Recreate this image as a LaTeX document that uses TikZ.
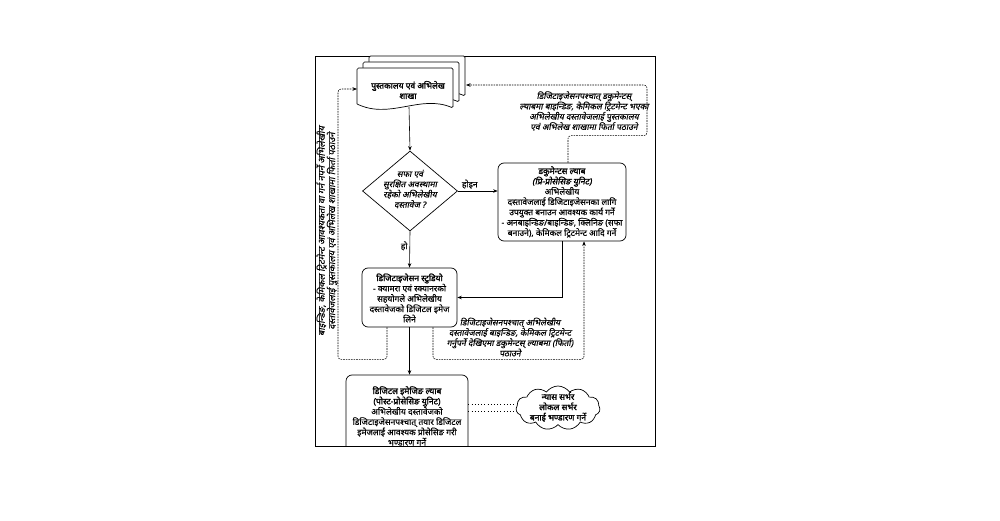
\documentclass[tikz,border=0pt]{standalone}
\usepackage{fontspec}
\setmainfont[Script=Devanagari,FakeBold=0.3]{Noto Sans}
\newfontfamily\devit[Script=Devanagari,FakeSlant=0.2,FakeBold=0.3]{Noto Sans}
\newfontfamily\devbf[Script=Devanagari,FakeBold=1.8]{Noto Sans}
\newfontfamily\devbi[Script=Devanagari,FakeBold=1.8,FakeSlant=0.2]{Noto Sans}
\usetikzlibrary{shapes.geometric,shapes.symbols,arrows.meta,calc}
\tikzset{
  box/.style={draw, rounded corners=6pt, line width=0.7pt, inner sep=0pt},
  txt/.style={align=center, font=\fontsize{8.5}{10.3}\selectfont, inner sep=0pt},
  arr/.style={-{Stealth[length=4.5pt,width=3.5pt]}, line width=0.6pt},
  dsh/.style={dash pattern=on 1.6pt off 1pt, line width=0.55pt, rounded corners=3pt},
  dotl/.style={dash pattern=on 1pt off 2.2pt, line width=1.1pt},
  page/.style={draw, fill=white, line width=0.7pt, rounded corners=1.5pt},
}
\begin{document}
\begin{tikzpicture}[x=1pt,y=-1pt]
\useasboundingbox (0,0) rectangle (1000,521);
\fill[white] (0,0) rectangle (1000,521);

% frame
\draw[line width=0.8pt] (315,56) rectangle (655,446);

% multi-document
\draw[page] (369,92) -- (369,56) -- (465,56) -- (465,96) .. controls (432,82) and (402,108) .. (369,92);
\draw[page] (363,98) -- (363,62) -- (459,62) -- (459,102) .. controls (426,88) and (396,114) .. (363,98);
\draw[page] (357,104) -- (357,68) -- (453,68) -- (453,108) .. controls (420,94) and (390,120) .. (357,104);
\node[txt, font=\fontsize{8.5}{10.3}\selectfont\devbf] (doc) at (408,90) {पुस्तकालय एवं अभिलेख\\शाखा};
\coordinate (docS) at (409,107);
\coordinate (docW) at (357,89);
\coordinate (docE) at (466,85);

% decision
\node[draw, shape=diamond, line width=0.7pt, minimum width=95pt, minimum height=80pt, inner sep=0pt] (dia) at (410,191) {};
\node[txt, font=\fontsize{8.5}{10.3}\selectfont\devit] (diat) at (410,189) {सफा एवं\\सुरक्षित अवस्थामा\\रहेको अभिलेखीय\\दस्तावेज ?};

% right box
\node[box, minimum width=128pt, minimum height=78pt] (rightbox) at (562,202) {};
\node[txt] (rightt) at (562,202) {{\devbf डकुमेन्टस ल्याब}\\{\devbi (प्रि-प्रोसेसिङ युनिट)}\\अभिलेखीय\\दस्तावेजलाई डिजिटाइजेसनका लागि\\उपयुक्त बनाउन आवश्यक कार्य गर्ने\\- अनबाइन्डिङ/बाइन्डिङ, क्लिनिङ (सफा\\बनाउने), केमिकल ट्रिटमेन्ट आदि गर्ने};

% middle box
\node[box, minimum width=95pt, minimum height=59pt] (midbox) at (409.5,297.5) {};
\node[txt] (midt) at (409.5,298) {{\devbf डिजिटाइजेसन स्टुडियो}\\- क्यामरा एवं स्क्यानरको\\सहयोगले अभिलेखीय\\दस्तावेजको डिजिटल इमेज\\लिने};

% bottom box (clipped by frame)
\begin{scope}
\clip (315,56) rectangle (655,446);
\node[box, minimum width=122pt, minimum height=77pt] (botbox) at (407,413.5) {};
\end{scope}
\node[txt] (bott) at (407,416) {{\devbf डिजिटल इमेजिङ ल्याब}\\{\devbf (पोस्ट-प्रोसेसिङ युनिट)}\\अभिलेखीय दस्तावेजको\\डिजिटाइजेसनपश्चात् तयार डिजिटल\\इमेजलाई आवश्यक प्रोसेसिङ गरी\\भण्डारण गर्ने};

% cloud
\node[draw, shape=cloud, cloud puffs=11, cloud puff arc=110, aspect=2, line width=0.7pt, minimum width=84pt, minimum height=44pt, inner sep=0pt] (cloud) at (558,408) {};
\node[txt, font=\fontsize{8.5}{10.3}\selectfont\devbf] (cloudt) at (558,407) {न्यास सर्भर\\लोकल सर्भर\\बनाई भण्डारण गर्ने};

% solid connectors
\draw[arr] (docS) -- (dia.north);
\draw[arr] (dia.east) -- node[pos=0.3, above, txt, yshift=2pt] (no) {होइन} (dia.east -| rightbox.west);
\draw[arr] (dia.south) -- node[pos=0.4, left, txt, xshift=-2pt] (yes) {हो} (midbox.north);
\draw[arr] (rightbox.south) |- (midbox.east);
\draw[arr] (midbox.south) -- (midbox.south |- botbox.north);

% dashed connectors
\coordinate (lcorner) at (338,89);
\draw[dsh, arr, dash pattern=on 1.6pt off 1pt, line width=0.55pt] ([xshift=-22.5pt]midbox.south) -- ++(0,32) -| (lcorner) -- (docW);
\draw[dsh, arr, dash pattern=on 1.6pt off 1pt, line width=0.55pt] ([xshift=23.5pt]midbox.south) -- ++(0,32) -| ([xshift=22pt]rightbox.south);
\coordinate (trcorner) at (647,85);
\draw[dsh, arr, dash pattern=on 1.6pt off 1pt, line width=0.55pt] ([xshift=6pt]rightbox.north) -- ++(0,-27) -| (trcorner) -- (docE);

% dotted double link
\draw[dotl] ([yshift=3.5pt]cloud.west -| botbox.east) -- ([yshift=3.5pt]cloud.west);
\draw[dotl] ([yshift=-3.5pt]cloud.west -| botbox.east) -- ([yshift=-3.5pt]cloud.west);

% annotations
\node[txt, font=\fontsize{8.5}{10.3}\selectfont\devit] (anntop) at (584,111) {डिजिटाइजेसनपश्चात् डकुमेन्टस्\\ल्याबमा बाइन्डिङ, केमिकल ट्रिटमेन्ट भएका\\अभिलेखीय दस्तावेजलाई पुस्तकालय\\एवं अभिलेख शाखामा फिर्ता पठाउने};
\node[txt, font=\fontsize{8.5}{10.3}\selectfont\devit] (annbot) at (510,337) {डिजिटाइजेसनपश्चात् अभिलेखीय\\दस्तावेजलाई बाइन्डिङ, केमिकल ट्रिटमेन्ट\\गर्नुपर्ने देखिएमा डकुमेन्टस् ल्याबमा (फिर्ता)\\पठाउने};
\node[txt, font=\fontsize{9.2}{10.3}\selectfont\devit, rotate=90] (annleft) at (327,231) {बाइन्डिङ, केमिकल ट्रिटमेन्ट आवश्यकता वा गर्न नपर्ने अभिलेखीय\\दस्तावेजलाई पुस्तकालय एवं अभिलेख शाखामा फिर्ता पठाउने};
\end{tikzpicture}
\end{document}
